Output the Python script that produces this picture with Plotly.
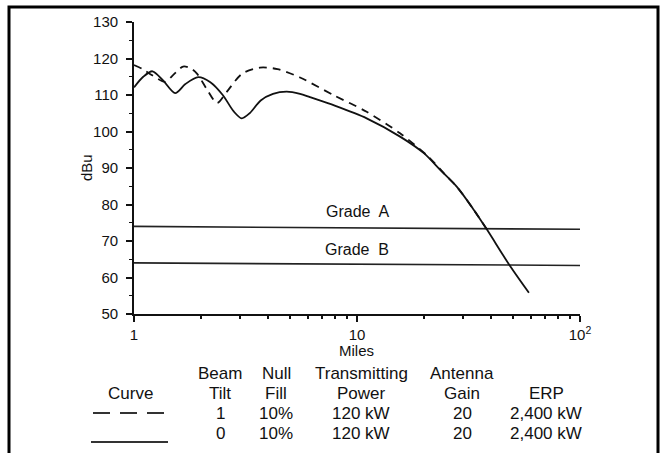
import plotly.graph_objects as go

# ---------------- data ----------------
solid_x = [1.0, 1.1, 1.21, 1.35, 1.53, 1.7, 1.94, 2.2, 2.5, 2.8, 3.04, 3.3, 3.7, 4.2, 4.84,
           5.55, 6.15, 8.0, 11.05, 15.6, 20.0, 23.6, 28.0, 33.0, 38.2, 48.5, 59.0]
solid_y = [112.1, 115.0, 116.5, 114.0, 110.5, 113.0, 114.9, 113.5, 110.0, 105.5, 103.6, 105.0,
           108.5, 110.3, 110.9, 110.3, 109.4, 107.0, 103.6, 98.6, 94.0, 89.5, 84.9, 79.0,
           73.2, 63.2, 55.8]

dashed_x = [1.0, 1.1, 1.2, 1.38, 1.5, 1.66, 1.8, 1.92, 2.13, 2.36, 2.6, 3.05, 3.67, 4.4,
            5.55, 7.83, 11.05, 15.6, 20.9, 25.0, 28.0, 33.0, 38.2]
dashed_y = [118.2, 117.0, 115.5, 113.6, 115.5, 117.8, 117.3, 115.8, 111.4, 107.8, 110.8,
            115.8, 117.5, 117.1, 114.8, 110.0, 105.4, 99.5, 93.1, 88.0, 84.9, 79.0, 73.2]

grade_x = [1, 100]
grade_a_y = [74.0, 73.2]
grade_b_y = [64.0, 63.3]
grade_labels = ["Grade  A", "Grade  B"]
grade_label_y = [78.0, 67.7]

y_ticks = [50, 60, 70, 80, 90, 100, 110, 120, 130]
x_ticks = [1, 10, 100]
x_ticktext = ["1", "10", "10<sup>2</sup>"]
x_minor = [2, 3, 4, 5, 6, 7, 8, 9, 20, 30, 40, 50, 60, 70, 80, 90]

table_header1 = ["", "Beam", "Null", "Transmitting", "Antenna", ""]
table_header2 = ["Curve", "Tilt", "Fill", "Power", "Gain", "ERP"]
table_row_dashed = ["", "1", "10%", "120 kW", "20", "2,400 kW"]
table_row_solid = ["", "0", "10%", "120 kW", "20", "2,400 kW"]

# ---------------- layout geometry (pixels) ----------------
W, H = 665, 453
L, R, T, B = 134, 580, 22, 314
PW, PH = R - L, B - T


def px(x):
    return (x - L) / PW


def py(y):
    return (B - y) / PH


FONT = "Liberation Sans, Arial, sans-serif"

fig = go.Figure()

fig.add_trace(go.Scatter(x=grade_x, y=grade_a_y, mode="lines",
                         line=dict(color="#222", width=1.6), showlegend=False))
fig.add_trace(go.Scatter(x=grade_x, y=grade_b_y, mode="lines",
                         line=dict(color="#222", width=1.6), showlegend=False))
fig.add_trace(go.Scatter(x=dashed_x, y=dashed_y, mode="lines",
                         line=dict(color="#111", width=1.8, dash="8px,6px", shape="spline",
                                   smoothing=0.8),
                         showlegend=False))
fig.add_trace(go.Scatter(x=solid_x, y=solid_y, mode="lines",
                         line=dict(color="#111", width=1.8, shape="spline", smoothing=0.8),
                         showlegend=False))

for lab, yy in zip(grade_labels, grade_label_y):
    fig.add_annotation(x=1, y=yy, xref="x", yref="y", text=lab, showarrow=False,
                       font=dict(family=FONT, size=16, color="#111"),
                       xanchor="center", yanchor="middle")

# axis titles
fig.add_annotation(x=px(356), y=py(350), xref="paper", yref="paper", text="Miles",
                   showarrow=False, font=dict(family=FONT, size=15, color="#111"),
                   xanchor="center", yanchor="middle")
fig.add_annotation(x=px(86), y=py(168), xref="paper", yref="paper", text="dBu",
                   textangle=-90, showarrow=False,
                   font=dict(family=FONT, size=15, color="#111"),
                   xanchor="center", yanchor="middle")

# table
col_x = [130, 220, 276, 361, 462, 546]
rows = [(table_header1, 373), (table_header2, 393), (table_row_dashed, 413),
        (table_row_solid, 433)]
for texts, yy in rows:
    for t, cx in zip(texts, col_x):
        if t:
            fig.add_annotation(x=px(cx), y=py(yy), xref="paper", yref="paper", text=t,
                               showarrow=False,
                               font=dict(family=FONT, size=17, color="#111"),
                               xanchor="center", yanchor="middle")

# legend samples
fig.add_shape(type="line", xref="paper", yref="paper", x0=px(93), x1=px(166),
              y0=py(413), y1=py(413), line=dict(color="#333", width=1.8, dash="17px,10px"))
fig.add_shape(type="line", xref="paper", yref="paper", x0=px(91), x1=px(168),
              y0=py(442), y1=py(442), line=dict(color="#333", width=1.8))

# frame
fig.add_shape(type="rect", xref="paper", yref="paper", x0=px(9), x1=px(658),
              y0=py(470), y1=py(7), line=dict(color="black", width=3), layer="below")

fig.update_layout(
    width=W, height=H,
    margin=dict(l=L, r=W - R, t=T, b=H - B, pad=0),
    paper_bgcolor="white", plot_bgcolor="white",
    font=dict(family=FONT, size=15, color="#111"),
    showlegend=False,
    xaxis=dict(type="log", range=[0, 2], showgrid=False, zeroline=False,
               showline=True, linecolor="#111", linewidth=1.6, mirror=False,
               tickmode="array", tickvals=x_ticks, ticktext=x_ticktext,
               ticks="outside", ticklen=6, tickwidth=1.5, tickcolor="#111",
               ticklabelstandoff=0,
               tickfont=dict(family=FONT, size=15, color="#111"),
               minor=dict(tickmode="array", tickvals=x_minor, ticks="outside",
                          ticklen=3, tickwidth=1.5, tickcolor="#111", showgrid=False)),
    yaxis=dict(range=[50, 130], showgrid=False, zeroline=False,
               showline=True, linecolor="#111", linewidth=1.8, mirror=False,
               tickmode="array", tickvals=y_ticks,
               ticks="outside", ticklen=6, tickwidth=1.5, tickcolor="#111",
               ticklabelstandoff=5,
               tickfont=dict(family=FONT, size=15, color="#111"),
               minor=dict(dtick=5, ticks="outside", ticklen=3, tickwidth=1.2,
                          tickcolor="#111", showgrid=False)),
)

fig.write_html("out.html")
